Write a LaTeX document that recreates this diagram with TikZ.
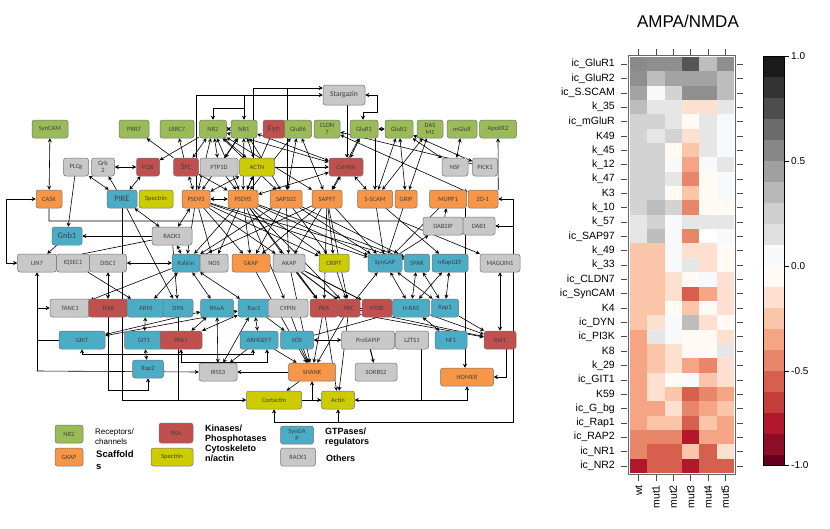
\documentclass[tikz,border=0pt]{standalone}
\usepackage{fontspec}
\setmainfont{Liberation Sans}
\newfontfamily\calfont{Carlito}
\usetikzlibrary{arrows.meta}
\pgfdeclarelayer{bg}
\pgfdeclarelayer{paper}
\pgfsetlayers{paper,bg,main}
\definecolor{cgreen}{HTML}{9BBB59}
\definecolor{cred}{HTML}{C0504D}
\definecolor{corange}{HTML}{F79646}
\definecolor{cyellow}{HTML}{CCCC00}
\definecolor{cblue}{HTML}{4BACC6}
\definecolor{cgray}{HTML}{C8C8C8}
% heatmap colours
\definecolor{g55}{HTML}{555555}
\definecolor{g8a}{HTML}{8A8A8A}
\definecolor{g8f}{HTML}{8F8F8F}
\definecolor{ga3}{HTML}{A3A3A3}
\definecolor{gbd}{HTML}{BDBDBD}
\definecolor{gd3}{HTML}{D3D3D3}
\definecolor{ge6}{HTML}{E6E6E6}
\definecolor{wb}{HTML}{F7F9FB}
\definecolor{ww}{HTML}{FFFAF3}
\definecolor{ra}{HTML}{FDE0CF}
\definecolor{rb}{HTML}{FBC5AA}
\definecolor{rc}{HTML}{F5A583}
\definecolor{rd}{HTML}{E8866A}
\definecolor{re}{HTML}{D6604D}
\definecolor{rf}{HTML}{C43C3C}
\definecolor{rg}{HTML}{B2182B}
\definecolor{rh}{HTML}{8C0D25}
\definecolor{ri}{HTML}{67001F}
\definecolor{k1}{HTML}{1A1A1A}
\definecolor{k2}{HTML}{333333}
\definecolor{k3}{HTML}{4D4D4D}
\definecolor{k4}{HTML}{6B6B6B}
\definecolor{k5}{HTML}{878787}
\definecolor{k6}{HTML}{A0A0A0}
\definecolor{k7}{HTML}{B8B8B8}
\definecolor{k8}{HTML}{CFCFCF}
\definecolor{k9}{HTML}{E0E0E0}
\newcommand\nf{\calfont\fontsize{6.5}{7}\selectfont}
\newcommand\nfbig{\calfont\fontsize{8.5}{9}\selectfont}
\begin{document}
\begin{tikzpicture}[x=1pt,y=-1pt,
  nd/.style={rounded corners=2.5pt, draw=black!55, line width=0.5pt, minimum height=18pt, inner sep=0.5pt, font=\nf, text=black!75, align=center},
  rec/.style={nd, fill=cgreen},
  kin/.style={nd, fill=cred},
  scaf/.style={nd, fill=corange},
  cyt/.style={nd, fill=cyellow},
  gtp/.style={nd, fill=cblue},
  oth/.style={nd, fill=cgray},
  uni/.style={line width=0.6pt, -{Stealth[length=4pt,width=4pt]}},
  bi/.style={line width=0.6pt, {Stealth[length=4pt,width=4pt]}-{Stealth[length=4pt,width=4pt]}},
  pl/.style={line width=0.6pt},
  lgt/.style={font=\fontsize{8}{10}\selectfont, align=left, inner sep=0pt},
  lgb/.style={font=\bfseries\fontsize{9}{10}\selectfont, align=left, inner sep=0pt},
  hl/.style={font=\fontsize{10.5}{12}\selectfont, inner sep=0pt}
]
\useasboundingbox (0,0) rectangle (830,528);
\begin{pgfonlayer}{paper}
\fill[white] (0,0) rectangle (830,528);
\end{pgfonlayer}

% ---------------- nodes ----------------
% row 1
\node[rec,minimum width=36pt] (SynCAM) at (50,129) {SynCAM};
\node[rec,minimum width=30pt] (PRR7) at (134,129) {PRR7};
\node[rec,minimum width=34pt] (LRRC7) at (177,129) {LRRC7};
\node[rec,minimum width=27pt] (NR2) at (213,129) {NR2};
\node[rec,minimum width=26pt] (NR1) at (244,129) {NR1};
\node[kin,minimum width=22pt,font=\nfbig] (Fyn) at (274,129) {Fyn};
\node[rec,minimum width=27pt] (GluR6) at (298,129) {GluR6};
\node[rec,minimum width=26pt] (CLDN7) at (327,129) {CLDN\\7};
\node[rec,minimum width=28pt] (GluR1) at (364,129) {GluR1};
\node[rec,minimum width=28pt] (GluR2) at (399,129) {GluR2};
\node[rec,minimum width=26pt] (DASM1) at (430,129) {DAS\\M1};
\node[rec,minimum width=30pt] (mGluR) at (462,129) {mGluR};
\node[rec,minimum width=37pt] (ApoER2) at (498,129) {ApoER2};
\node[oth,minimum width=42pt,minimum height=20pt,font=\calfont\fontsize{7.5}{8}\selectfont] (Stargazin) at (344,95) {Stargazin};
% row 2
\node[oth,minimum width=25pt] (PLCg) at (76,167) {PLCg};
\node[oth,minimum width=23pt] (Grb2) at (103,167) {Grb\\2};
\node[kin,minimum width=23pt] (PI3K) at (148,167) {PI3K};
\node[kin,minimum width=25pt,font=\nfbig] (Src) at (186,167) {Src};
\node[oth,minimum width=38pt] (PTP1D) at (219,167) {PTP1D};
\node[cyt,minimum width=35pt] (ACTN) at (257,167) {ACTN};
\node[kin,minimum width=34pt] (CaMKII) at (346,167) {CaMKII};
\node[oth,minimum width=26pt] (NSF) at (455,167) {NSF};
\node[oth,minimum width=25pt] (PICK1) at (485,167) {PICK1};
% row 3
\node[scaf,minimum width=26pt] (CASK) at (49,199) {CASK};
\node[gtp,minimum width=30pt,font=\nfbig] (PIKE) at (122,199) {PIKE};
\node[cyt,minimum width=34pt] (Spectrin) at (156,199) {Spectrin};
\node[scaf,minimum width=28pt] (PSD93) at (196,199) {PSD93};
\node[scaf,minimum width=30pt] (PSD95) at (243,199) {PSD95};
\node[scaf,minimum width=32pt] (SAP102) at (286,199) {SAP102};
\node[scaf,minimum width=30pt] (SAP97) at (327,199) {SAP97};
\node[scaf,minimum width=35pt] (SSCAM) at (375,199) {S-SCAM};
\node[scaf,minimum width=22pt] (GRIP) at (406,199) {GRIP};
\node[scaf,minimum width=37pt] (MUPP1) at (448,199) {MUPP1};
\node[scaf,minimum width=30pt] (ZO1) at (483,199) {ZO-1};
% row 4
\node[gtp,minimum width=30pt,font=\nfbig] (Gnb1) at (67,236) {Gnb1};
\node[oth,minimum width=40pt] (RACK1) at (172,236) {RACK1};
\node[oth,minimum width=40pt] (DAB2IP) at (443,226) {DAB2IP};
\node[oth,minimum width=32pt] (DAB1) at (479,226) {DAB1};
% row 5
\node[oth,minimum width=39pt] (LIN7) at (37,263) {LIN7};
\node[oth,minimum width=33pt] (IQSEC1) at (73,263) {IQSEC1};
\node[oth,minimum width=37pt] (DISC1) at (108,263) {DISC1};
\node[gtp,minimum width=28pt] (Kalirin) at (186,263) {Kalirin};
\node[oth,minimum width=28pt] (NOS) at (214,263) {NOS};
\node[scaf,minimum width=38pt] (GKAP) at (251,263) {GKAP};
\node[oth,minimum width=32pt] (AKAP) at (289,263) {AKAP};
\node[cyt,minimum width=30pt] (CRIPT) at (334,263) {CRIPT};
\node[gtp,minimum width=34pt] (SynGAP) at (385,263) {SynGAP};
\node[gtp,minimum width=25pt] (SPAR) at (417,263) {SPAR};
\node[gtp,minimum width=36pt] (nRapGEF) at (450,263) {nRapGEF};
\node[oth,minimum width=40pt] (MAGUIN1) at (500,263) {MAGUIN1};
% row 6
\node[oth,minimum width=40pt] (TANC1) at (70,308) {TANC1};
\node[kin,minimum width=39pt] (TNIK) at (108,308) {TNIK};
\node[gtp,minimum width=38pt] (ARF6) at (146,308) {ARF6};
\node[gtp,minimum width=30pt] (DYN) at (178,308) {DYN};
\node[gtp,minimum width=33pt] (RhoA) at (217,308) {RhoA};
\node[gtp,minimum width=32pt] (Rac1) at (254,308) {Rac1};
\node[oth,minimum width=40pt] (CYPIN) at (288,308) {CYPIN};
\node[kin,minimum width=28pt] (PKA) at (324,308) {PKA};
\node[kin,minimum width=22pt] (PKC) at (349,308) {PKC};
\node[kin,minimum width=30pt] (PP2B) at (377,308) {PP2B};
\node[gtp,minimum width=37pt] (HRAS) at (411,308) {H-RAS};
\node[gtp,minimum width=27pt] (Rap1) at (445,308) {Rap1};
% row 7
\node[gtp,minimum width=46pt] (GRIT) at (82,340) {GRIT};
\node[gtp,minimum width=39pt] (GIT1) at (144,340) {GIT1};
\node[kin,minimum width=42pt] (PAK1) at (181,340) {PAK1};
\node[gtp,minimum width=38pt] (ARHGEF7) at (259,340) {ARHGEF7};
\node[gtp,minimum width=33pt] (SOS) at (297,340) {SOS};
\node[oth,minimum width=53pt] (ProSAPIP) at (368,340) {ProSAPIP};
\node[oth,minimum width=33pt] (LZTS1) at (412,340) {LZTS1};
\node[gtp,minimum width=32pt] (NF1) at (451,340) {NF1};
\node[kin,minimum width=32pt] (Raf1) at (500,340) {Raf1};
% row 8
\node[gtp,minimum width=31pt] (Rap2) at (148,369) {Rap2};
\node[oth,minimum width=38pt] (IRSS3) at (218,372) {IRSS3};
\node[scaf,minimum width=47pt] (SHANK) at (312,372) {SHANK};
\node[oth,minimum width=42pt] (SORBS2) at (376,372) {SORBS2};
\node[scaf,minimum width=53pt] (HOMER) at (467,377) {HOMER};
% row 9
\node[cyt,minimum width=55pt] (Cortactin) at (274,400) {Cortactin};
\node[cyt,minimum width=33pt] (Actin) at (338,400) {Actin};

% ---------------- connectors ----------------
\begin{pgfonlayer}{bg}
% routed lines at top
\draw[uni] (PSD93.north) -- (196,95) -- (Stargazin.west);
\draw[uni] ([xshift=10pt]PSD95.north) -- (253,88) -- ([yshift=7pt]Stargazin.west);
\draw[uni] (244,95) -- (NR1.north);
\draw[uni] (244,95) -- (244,108) -- (213,108) -- (NR2.north);
\draw[uni] (287,88) -- ([xshift=1pt]SAP102.north);
\draw[uni] ([xshift=3pt]Stargazin.south) -- ([xshift=1pt]CaMKII.north);
\draw[bi] (Stargazin.east) -- (377,95) -- (377,112) -- (363,112) -- ([xshift=-1pt]GluR1.north);
\draw[uni] ([xshift=11pt]GluR1.south) -- (SSCAM.north);
% left routes
\draw[bi] (CASK.west) -- (6,199) -- (6,263) -- (LIN7.west);
\draw[uni] (CASK.south) -- (49,221) -- (400,221) -- (MAGUIN1.north west);
\draw[uni] (37,371) -- (LIN7.south);
\draw[uni] (37,308) -- (TANC1.west);
\draw[pl] (37,340) -- (GRIT.west);
\draw[uni] (37,371) -- (IRSS3.west);
\draw[uni] (PIKE.south) -- (122,400) -- (Cortactin.west);
\draw[pl] (DYN.south) -- (178,400);
\draw[uni] (TNIK.south) -- (108,390) -- (148,390) -- (Rap2.south);
\draw[bi] (GRIT.south) -- (82,354) -- (253,354) -- ([xshift=-6pt]ARHGEF7.south);
\draw[bi] (PAK1.south) -- (181,362) -- (267,362) -- ([xshift=8pt]ARHGEF7.south);
% right routes
\draw[pl] (513,199) -- (513,422) -- (274,422);
\draw[uni] (513,199) -- (ZO1.east);
\draw[uni] (513,226) -- (DAB1.east);
\draw[uni] (274,422) -- (Cortactin.south);
\draw[uni] (338,422) -- (Actin.south);
\draw[uni] (ZO1.north east) -- (ApoER2.south);
\draw[uni] ([xshift=17pt]MUPP1.south) -- ([xshift=-2pt]HOMER.north);
\draw[bi] (MAGUIN1.south) -- (Raf1.north);
\draw[uni] ([xshift=6pt]Raf1.south) |- (HOMER.east);
\draw[bi] (HOMER.south) |- (Actin.east);
\draw[pl] ([xshift=9pt]LZTS1.south) -- (421,400);
\draw[bi] (SHANK.south) |- (Actin.west);
\draw[pl] (Cortactin.east) -- (Actin.west);
\draw[uni] (SHANK.west) -- (IRSS3.east);
% top cluster
\draw[bi] (SynCAM) -- (CASK);
\draw[uni] (Src) -- (PRR7);
\draw[uni] (Src) -- (LRRC7);
\draw[uni] (NR2) -- (PI3K);
\foreach \t in {Src,PTP1D,ACTN,PSD95,PSD93,CaMKII,SAP102,SAP97,NR1} {\draw[bi] (NR2) -- (\t);}
\foreach \t in {ACTN,PSD95,CaMKII,SAP102,PTP1D,PSD93} {\draw[bi] (NR1) -- (\t);}
\draw[uni] (Fyn) -- (PSD95);
\draw[bi] (GluR6) -- (SAP102);
\draw[bi] (GluR6) -- (SAP97);
\draw[bi] (GluR6) -- (PSD95);
\draw[bi] (CaMKII) -- (GluR1);
\draw[bi] (GluR1) -- (SAP97);
\draw[bi] (GluR1) -- (GluR2);
\draw[bi] (GluR2) -- (GRIP);
\draw[bi] (GluR2) -- (SSCAM);
\draw[bi] (GluR2) -- (PICK1);
\draw[bi] (GluR2) -- (NSF);
\draw[bi] (DASM1) -- (GRIP);
\draw[bi] (DASM1) -- (SSCAM);
\draw[bi] (mGluR) -- (NSF);
\draw[bi] (CLDN7) -- (ZO1);
\draw[uni] (PICK1) -- (CLDN7);
\draw[bi] (PLCg) -- (PIKE);
\draw[uni] (PLCg) -- (Gnb1);
\draw[uni] (PIKE) -- (Grb2);
\draw[bi] (Grb2) -- (PI3K);
\draw[bi] (PI3K) -- (PIKE);
\draw[bi] (PSD93) -- (PSD95);
\draw[bi] (Src) -- (PSD93);
\draw[bi] (Src) -- (PSD95);
\draw[uni] (PTP1D) -- (PSD95);
\draw[bi] (ACTN) -- (PSD95);
\draw[bi] (ACTN) -- (PSD93);
\draw[bi] (CaMKII) -- (SAP97);
\draw[bi] (CaMKII) -- (PSD95);
\draw[bi] (CaMKII) -- (SSCAM);
\draw[uni] (ACTN) -- (CaMKII);
% middle
\draw[bi] (RACK1) -- (PSD93);
\draw[bi] (RACK1) -- (PIKE);
\draw[uni] (RACK1) -- (Gnb1);
\draw[uni] (RACK1) -- (LIN7);
\draw[uni] (Gnb1) -- (LIN7);
\draw[bi] (RACK1) -- (Kalirin);
\draw[uni] (RACK1) -- (DYN);
\draw[uni] (PIKE) -- (DYN);
\foreach \s in {PSD93,PSD95,SAP102,SAP97} {\foreach \t in {GKAP,AKAP,SynGAP,CRIPT,Kalirin} {\draw[uni] (\s) -- (\t);}}
\draw[uni] (PSD95) -- (NOS);
\draw[uni] (PSD93) -- (NOS);
\draw[uni] (PSD95) -- (SPAR);
\draw[uni] (SAP102) -- (SPAR);
\draw[uni] (PSD93) -- (SPAR);
\draw[uni] (PSD95) -- (CYPIN);
\draw[uni] (PSD95) -- (PKA);
\draw[uni] (SAP97) -- (PKA);
\draw[uni] (PSD95) -- (PKC);
\draw[uni] (SAP97) -- (PKC);
\draw[uni] (SSCAM) -- (SynGAP);
\draw[uni] (SSCAM) -- (nRapGEF);
\draw[uni] (GRIP) -- (SynGAP);
\draw[uni] (MUPP1) -- (SynGAP);
\draw[uni] (DAB2IP) -- (MUPP1);
\draw[uni] (SynGAP) -- (DAB2IP);
% lower
\draw[bi] (DISC1) -- (Kalirin);
\draw[bi] (DISC1) -- (TNIK);
\draw[uni] (IQSEC1) -- (ARF6);
\draw[uni] (Kalirin) -- (TANC1);
\draw[bi] (ARF6) -- (GIT1);
\draw[bi] (GIT1) -- (Rap2);
\draw[bi] (GRIT) -- (RhoA);
\draw[bi] (GRIT) -- (Rac1);
\draw[bi] (Kalirin) -- (RhoA);
\draw[bi] (Kalirin) -- (Rac1);
\draw[bi] (Kalirin) -- (ARF6);
\draw[bi] (RhoA) -- (PAK1);
\draw[bi] (Rac1) -- (PAK1);
\draw[bi] (RhoA) -- (IRSS3);
\draw[bi] (Rac1) -- (IRSS3);
\draw[uni] (ARHGEF7) -- (IRSS3);
\draw[bi] (ARHGEF7) -- (Rac1);
\draw[uni] (ARHGEF7) -- (SHANK);
\draw[uni] (SOS) -- (SHANK);
\draw[uni] (PKA) -- (SHANK);
\draw[uni] (PKC) -- (SHANK);
\draw[uni] (CYPIN) -- (SHANK);
\draw[uni] (AKAP) -- (SHANK);
\draw[uni] (GKAP) -- (SHANK);
\draw[uni] (PKC) -- (Actin);
\draw[uni] (PKA) -- (Actin);
\draw[uni] (SHANK) -- (Cortactin);
\draw[uni,line width=1pt] (ProSAPIP) -- (SORBS2);
\draw[bi] (SOS) -- (ProSAPIP);
\foreach \s in {HRAS,Rap1} {\foreach \t in {SynGAP,SPAR,nRapGEF} {\draw[bi] (\s) -- (\t);}}
\foreach \s in {HRAS,Rap1,PKA,PKC} {\draw[uni] (\s) -- (Raf1);}
\draw[bi] (NF1) -- (HRAS);
\draw[uni] (SOS) -- (HRAS);
\draw[uni,line width=0.9pt] (AKAP) -- (PKA);
\draw[uni,line width=0.9pt] (AKAP) -- (PKC);
\draw[uni,line width=0.9pt] (AKAP) -- (PP2B);
\draw[uni] (CRIPT) -- (PKC);
\draw[uni] (PKC) -- (SynGAP);
\draw[uni] (Rac1) -- (SOS);
\draw[uni] (PKC) -- (HRAS);
\end{pgfonlayer}

% ---------------- legend ----------------
\node[rec,minimum width=28pt,minimum height=18pt] (LgRec) at (69,434) {NR2};
\node[scaf,minimum width=28pt] (LgScaf) at (69,457) {GKAP};
\node[kin,minimum width=34pt,minimum height=20pt] (LgKin) at (176,433) {PKA};
\node[cyt,minimum width=42pt] (LgCyt) at (172,457) {Spectrin};
\node[gtp,minimum width=33pt] (LgGtp) at (297,435) {SynGA\\P};
\node[oth,minimum width=35pt] (LgOth) at (298,457) {RACK1};
\node[lgt,anchor=north west] (TxRec) at (95,428) {Receptors/\\channels};
\node[lgb,anchor=north west,font=\bfseries\fontsize{9.5}{12}\selectfont] (TxScaf) at (96,450) {Scaffold\\s};
\node[lgb,anchor=north west] (TxKin) at (205,425) {Kinases/\\Phosphotases\\Cytoskeleto\\n/actin};
\node[lgb,anchor=north west] (TxGtp) at (325,428) {GTPases/\\regulators};
\node[lgb,anchor=west] (TxOth) at (326,458) {Others};

% ---------------- heatmap ----------------
\node[font=\fontsize{17}{20}\selectfont] (Title) at (688,21) {AMPA/NMDA};
\foreach \lab/\ca/\cb/\cc/\cd/\ce/\cf [count=\r from 0] in {
ic\_GluR1/g8a/g8f/g8f/g55/gbd/g8f,
ic\_GluR2/g8f/gbd/ga3/ga3/ga3/gbd,
ic\_S.SCAM/ga3/wb/gd3/g8f/g8f/gbd,
k\_35/gbd/ge6/ge6/ra/ra/ge6,
ic\_mGluR/gd3/gd3/ge6/ww/ge6/wb,
K49/gd3/ge6/gd3/ra/ge6/wb,
k\_45/gd3/gd3/ww/rb/ge6/wb,
k\_12/gd3/gd3/wb/rc/wb/ge6,
k\_47/gd3/gd3/ge6/rd/ww/wb,
K3/gd3/gd3/ww/rb/ww/wb,
k\_10/gd3/gbd/gd3/rd/ww/ww,
k\_57/ge6/gd3/wb/ge6/ge6/ge6,
ic\_SAP97/ge6/gbd/wb/rd/white/wb,
k\_49/rb/rb/wb/ra/ra/ww,
k\_33/rb/rb/wb/ge6/ra/ww,
ic\_CLDN7/rb/rb/ra/ww/wb/ra,
ic\_SynCAM/rb/rb/ra/re/rc/ra,
K4/rb/rb/ww/rb/ww/ra,
ic\_DYN/rb/ra/wb/gbd/ra/ww,
ic\_PI3K/rc/ge6/wb/ww/ww/ra,
K8/rc/rb/ra/ww/ww/ge6,
k\_29/rc/rb/ra/rc/rd/ra,
ic\_GIT1/rc/ra/ww/wb/rb/ra,
K59/rc/ra/rb/re/rd/rc,
ic\_G\_bg/rc/rc/ra/rd/rc/rb,
ic\_Rap1/rc/rb/rb/re/rb/rc,
ic\_RAP2/rd/rd/rd/rg/rc/rc,
ic\_NR1/rd/re/re/rb/re/ra,
ic\_NR2/rg/re/re/rg/re/re}
{
  \foreach \col [count=\i from 0] in {\ca,\cb,\cc,\cd,\ce,\cf}
    {\fill[fill=\col] (630+\i*17.333,57+\r*14.345) rectangle ++(17.333,14.345);}
  \node[hl,anchor=east] at (615,64.17+\r*14.345) {\lab};
  \draw[line width=0.5pt, black!70] (621,64.17+\r*14.345) -- (627,64.17+\r*14.345);
  \draw[line width=0.5pt, black!70] (737,64.17+\r*14.345) -- (743,64.17+\r*14.345);
}
\draw[line width=1pt, black!60] (628.5,55.5) rectangle (735.5,474.5);
\foreach \lab [count=\i from 0] in {wt,mut1,mut2,mut3,mut4,mut5} {
  \draw[line width=0.5pt, black!70] (638.67+\i*17.333,49) -- (638.67+\i*17.333,55);
  \draw[line width=0.5pt, black!70] (638.67+\i*17.333,475) -- (638.67+\i*17.333,481);
  \node[hl,rotate=90,anchor=east] at (638.67+\i*17.333,485) {\lab};
}
% colour bar
\begin{scope}
\clip (763,56) rectangle (784,465);
\foreach \col [count=\i from 0] in {k1,k2,k3,k4,k5,k6,k7,k8,k9,wb,ww,ra,rb,rc,rd,re,rf,rg,rh,ri}
  {\fill[fill=\col] (763,56+\i*21) rectangle ++(21,21);}
\end{scope}
\draw[line width=0.5pt] (763,56) rectangle (784,465);
\foreach \v/\yy in {1.0/56,0.5/161,0.0/266,-0.5/371,-1.0/465} {
  \draw[line width=0.5pt] (784,\yy) -- (789,\yy);
  \node[font=\fontsize{10}{12}\selectfont,anchor=west,inner sep=0pt] at (791,\yy) {\v};
}
\end{tikzpicture}
\end{document}
